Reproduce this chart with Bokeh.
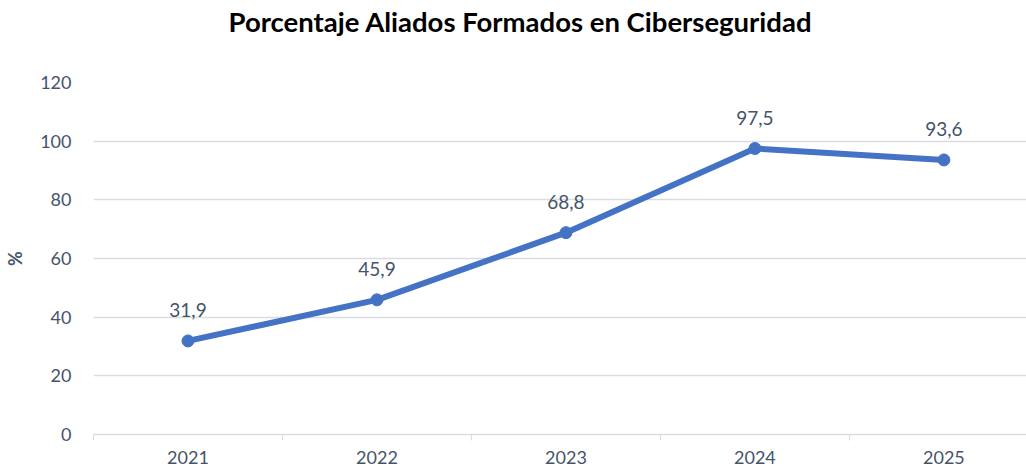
from bokeh.plotting import figure
from bokeh.models import ColumnDataSource, FixedTicker, Range1d, Title
from bokeh.core.properties import value
from bokeh.embed import file_html
from bokeh.resources import INLINE

years = ["2021", "2022", "2023", "2024", "2025"]
values = [31.9, 45.9, 68.8, 97.5, 93.6]
y_ticks = [0, 20, 40, 60, 80, 100, 120]
title_text = "Porcentaje Aliados Formados en Ciberseguridad"

FONT = "Lato"
TXT = "#44546A"
GRID = "#D9DDE3"
LINE = "#4472C4"

xs = list(range(1, len(years) + 1))
labels = [f"{v:.1f}".replace(".", ",") for v in values]
src = ColumnDataSource(dict(x=xs, y=values, lab=labels))

p = figure(width=1026, height=473, output_backend="svg", toolbar_location=None,
           x_range=Range1d(0.5, 5.437), y_range=Range1d(0, 120),
           min_border_left=93, min_border_right=0, min_border_top=82, min_border_bottom=39)
p.outline_line_color = None
p.background_fill_color = "white"
p.border_fill_color = "white"

p.line("x", "y", source=src, line_color=LINE, line_width=6, line_cap="round", line_join="round")
p.scatter("x", "y", source=src, size=12, fill_color=LINE, line_color=LINE)
p.text("x", "y", text="lab", source=src, text_align="center", text_baseline="alphabetic",
       y_offset=-31, text_font=value(FONT), text_font_size="19px", text_color=TXT)

# x axis
p.xaxis.ticker = FixedTicker(ticks=xs, minor_ticks=[0.5, 1.5, 2.5, 3.5, 4.5, 5.5])
p.xaxis.major_label_overrides = {i: y for i, y in zip(xs, years)}
p.xaxis.major_tick_line_color = None
p.xaxis.minor_tick_line_color = GRID
p.xaxis.minor_tick_out = 6
p.xaxis.minor_tick_in = 0
p.xaxis.axis_line_color = GRID
p.xaxis.axis_line_width = 1.5
p.xaxis.major_label_text_font = FONT
p.xaxis.major_label_text_font_size = "18px"
p.xaxis.major_label_text_color = TXT
p.xaxis.major_label_standoff = 10
p.xgrid.grid_line_color = None

# y axis
p.yaxis.ticker = FixedTicker(ticks=y_ticks)
p.yaxis.axis_line_color = None
p.yaxis.major_tick_line_color = None
p.yaxis.minor_tick_line_color = None
p.yaxis.major_label_text_font = FONT
p.yaxis.major_label_text_font_size = "18px"
p.yaxis.major_label_text_color = TXT
p.yaxis.major_label_standoff = 16
p.yaxis.axis_label = "%"
p.yaxis.axis_label_text_font = FONT
p.yaxis.axis_label_text_font_style = "bold"
p.yaxis.axis_label_text_font_size = "18px"
p.yaxis.axis_label_text_color = TXT
p.yaxis.axis_label_standoff = 11
p.ygrid.grid_line_color = GRID
p.ygrid.grid_line_width = 1.5

# spacer panel between the frame and the title
spacer = Title(text=" ", text_font=FONT, text_font_size="10px", standoff=31)
p.add_layout(spacer, "above")
title = Title(text=title_text, align="left", vertical_align="bottom",
              text_font=FONT, text_font_size="27.5px", text_font_style="bold",
              text_color="black", offset=135, standoff=0)
p.add_layout(title, "above")

open("out.html", "w").write(file_html(p, INLINE))
